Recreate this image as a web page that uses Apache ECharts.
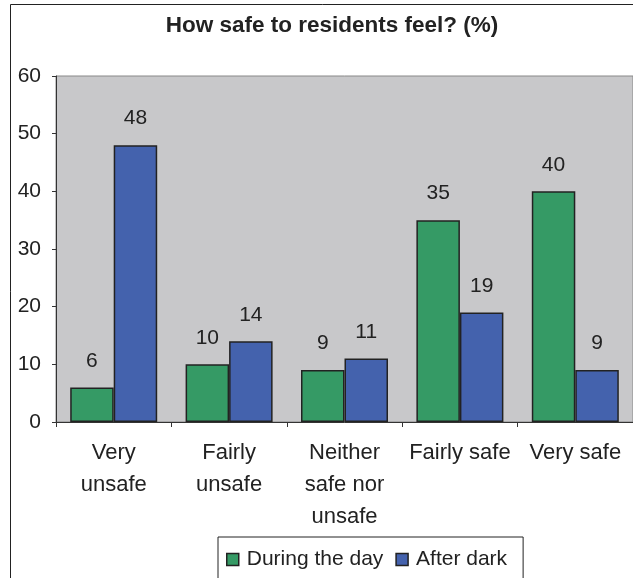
<!DOCTYPE html>
<html><head><meta charset="utf-8">
<script src="https://cdn.jsdelivr.net/npm/echarts@6/dist/echarts.min.js"></script>
<style>html,body{margin:0;padding:0;background:#fff}#c{width:633px;height:578px}</style>
</head><body><div id="c"></div>
<script>
var categories = ["Very\nunsafe", "Fairly\nunsafe", "Neither\nsafe nor\nunsafe", "Fairly safe", "Very safe"];
var dayValues = [6, 10, 9, 35, 40];
var darkValues = [48, 14, 11, 19, 9];
var seriesNames = ["During the day", "After dark"];
var yTicks = {min: 0, max: 60, interval: 10};

var chart = echarts.init(document.getElementById('c'), null, {renderer: 'canvas'});
var font = 'Liberation Sans, Arial, sans-serif';
var lbl = {show: true, position: 'top', distance: 16, color: '#222', fontSize: 21, fontFamily: font};
chart.setOption({
  animation: false,
  title: {text: 'How safe to residents feel? (%)', left: 327, textAlign: 'center', top: 9,
    textStyle: {fontSize: 22.5, fontWeight: 'bold', color: '#222', fontFamily: font}},
  graphic: [{type: 'rect', shape: {x: 10.5, y: 4.5, width: 700, height: 700}, silent: true,
    style: {fill: null, stroke: '#222', lineWidth: 1}, z: -1}],
  grid: {left: 56, right: -10.5, top: 76, bottom: 156, show: true, backgroundColor: '#C8C8CA',
    borderColor: '#888', borderWidth: 1, containLabel: false},
  legend: {top: 537, left: 218, padding: [12, 16, 40, 8], itemGap: 12, itemWidth: 12, itemHeight: 12, icon: 'rect',
    borderColor: '#222', borderWidth: 1, data: seriesNames,
    itemStyle: {borderColor: '#222', borderWidth: 1.5},
    textStyle: {fontSize: 21, color: '#222', fontFamily: font, padding: [0, 0, 0, 3]}},
  xAxis: {type: 'category', data: categories,
    axisLine: {lineStyle: {color: '#333'}}, axisTick: {show: true, length: 5, lineStyle: {color: '#333'}},
    axisLabel: {fontSize: 22, color: '#222', fontFamily: font, lineHeight: 32, margin: 15, interval: 0, verticalAlign: 'top'}},
  yAxis: {type: 'value', min: yTicks.min, max: yTicks.max, interval: yTicks.interval,
    axisLine: {show: true, lineStyle: {color: '#333'}}, axisTick: {show: true, length: 4, lineStyle: {color: '#333'}},
    splitLine: {show: false},
    axisLabel: {fontSize: 21, color: '#222', fontFamily: font, margin: 15}},
  series: [
    {name: seriesNames[0], type: 'bar', data: dayValues, barWidth: 43.5, barGap: '0%',
      itemStyle: {color: '#359A65', borderColor: '#222', borderWidth: 1.5}, label: lbl},
    {name: seriesNames[1], type: 'bar', data: darkValues, barWidth: 43.5,
      itemStyle: {color: '#4462AD', borderColor: '#222', borderWidth: 1.5}, label: lbl}
  ]
});
</script></body></html>
